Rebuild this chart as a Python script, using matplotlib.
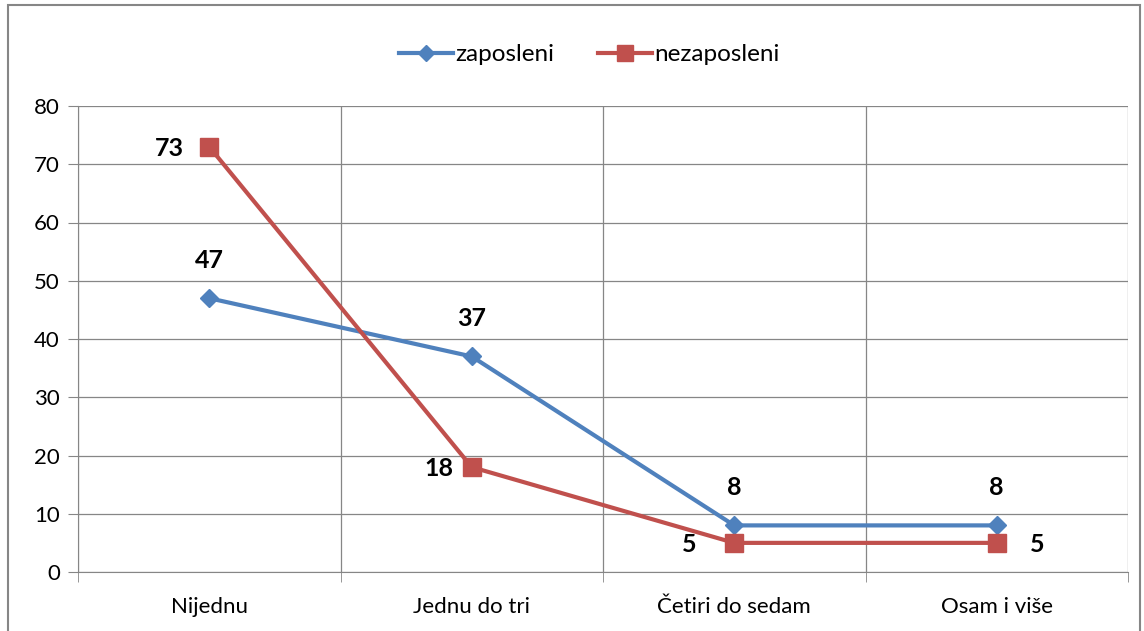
import matplotlib

matplotlib.use("Agg")
import matplotlib.pyplot as plt  # noqa: E402
from matplotlib.patches import Rectangle  # noqa: E402

categories = ["Nijednu", "Jednu do tri", "Četiri do sedam", "Osam i više"]
zaposleni = [47, 37, 8, 8]
nezaposleni = [73, 18, 5, 5]

BLUE = "#4F81BD"
RED = "#C0504D"
plt.rcParams["font.family"] = ["Lato", "DejaVu Sans"]

fig = plt.figure(figsize=(11.44, 6.31), dpi=100)
ax = fig.add_axes([78 / 1144, 59 / 631, 1050 / 1144, 466 / 631])

x = list(range(len(categories)))
ax.plot(x, zaposleni, color=BLUE, lw=3, marker="D", ms=9, label="zaposleni", zorder=3)
ax.plot(x, nezaposleni, color=RED, lw=3, marker="s", ms=13, label="nezaposleni", zorder=3)

# data labels
for i, v in enumerate(zaposleni):
    ax.annotate(str(v), (i, v), xytext=(0, 27), textcoords="offset points",
                ha="center", va="center", fontsize=18, fontweight="bold")
offsets = [(-18, "right"), (-13, "right"), (-27, "right"), (24, "left")]
for i, v in enumerate(nezaposleni):
    dx, ha = offsets[i]
    ax.annotate(str(v), (i, v), xytext=(dx, -1), textcoords="offset points",
                ha=ha, va="center", fontsize=18, fontweight="bold")

ax.set_xlim(-0.5, len(categories) - 0.5)
ax.set_ylim(0, 80)
ax.set_yticks(range(0, 81, 10))
ax.set_xticks(x)
ax.set_xticklabels(categories)
ax.set_xticks([i - 0.5 for i in range(len(categories) + 1)], minor=True)
ax.tick_params(axis="x", which="major", length=0, pad=18, labelsize=16)
ax.tick_params(axis="x", which="minor", length=7, color="#868686")
ax.tick_params(axis="y", length=7, color="#868686", labelsize=16, pad=6)
ax.grid(True, which="major", axis="y", color="#868686", lw=0.9)
ax.grid(True, which="minor", axis="x", color="#868686", lw=0.9)
for s in ["top", "right"]:
    ax.spines[s].set_visible(False)
for s in ["left", "bottom"]:
    ax.spines[s].set_color("#868686")

ax.legend(loc="center", bbox_to_anchor=(0.487, 1.11), ncol=2, frameon=False,
          fontsize=17.5, handlelength=2.2, columnspacing=1.8, handletextpad=0.1,
          markerscale=0.9)

fig.patches.append(Rectangle((8 / 1144, -0.1), 1132 / 1144, 1.1 - 5 / 631,
                             transform=fig.transFigure, fill=False,
                             edgecolor="#868686", lw=1.5))

fig.savefig("out.png", dpi=100)
